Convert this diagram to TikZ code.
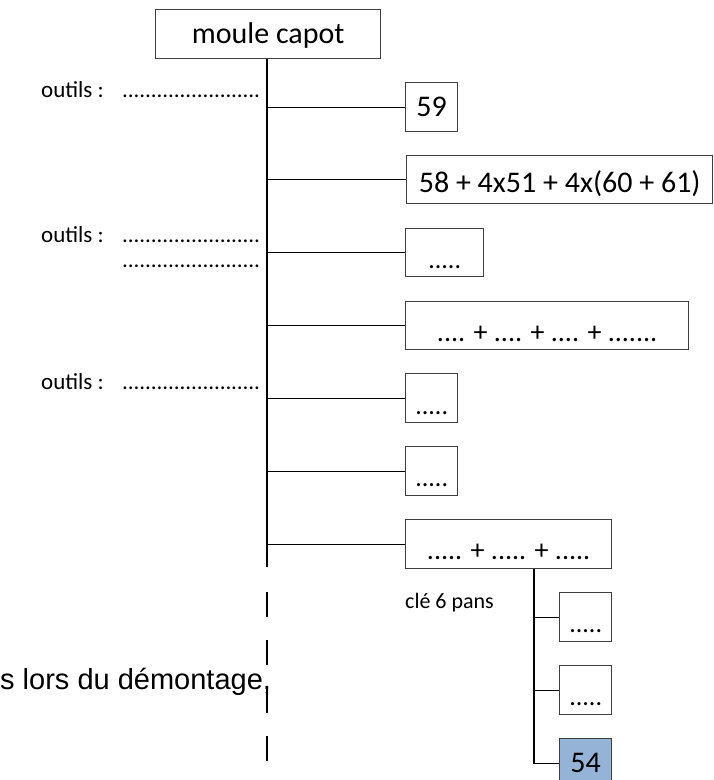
\documentclass[tikz,border=0pt]{standalone}
\usepackage{fontspec}
\setmainfont{Carlito}
\newfontfamily\arialfont{Liberation Sans}
\definecolor{boxgray}{HTML}{3F3F3F}
\definecolor{keyblue}{HTML}{95B3D7}
% a row of evenly spaced dots of fixed width
\newcommand\dotrule{\hbox to 138pt{\cleaders\hbox to 5.75pt{\hss.\hss}\hfill}}
\begin{document}
\begin{tikzpicture}[x=1pt,y=-1pt,
  box/.style={draw=boxgray, line width=1.4pt, inner sep=0pt, anchor=north west,
              align=center, font=\fontsize{30}{34}\selectfont},
  dotsfont/.style={font=\fontsize{26}{30}\selectfont},
  sumfont/.style={font=\fontsize{28}{32}\selectfont},
  lbl/.style={inner sep=0pt, anchor=base west, font=\fontsize{23}{27}\selectfont},
  conn/.style={draw=black, line width=1.3pt}]

\useasboundingbox (0,0) rectangle (713,780);

% root and first-level boxes
\node[box, minimum width=225pt, text height=34pt, text depth=15pt] (top) at (155,9) {moule capot};
\node[box, minimum width=52pt, text height=34pt, text depth=15pt] (b1) at (405,82) {59};
\node[box, minimum width=306pt, text height=37pt, text depth=11pt] (b2) at (406,155) {58 + 4x51 + 4x(60 + 61)};
\node[box, dotsfont, minimum width=78pt, text height=40pt, text depth=8pt] (b3) at (405,228) {.....};
\node[box, sumfont, minimum width=283pt, text height=40pt, text depth=8pt] (b4) at (405,301) {.... + .... + .... + .......};
\node[box, dotsfont, minimum width=52pt, text height=41pt, text depth=8pt] (b5) at (405,373) {.....};
\node[box, dotsfont, minimum width=52pt, text height=40pt, text depth=9pt] (b6) at (405,446) {.....};
\node[box, sumfont, minimum width=206pt, text height=40pt, text depth=9pt] (b7) at (405,519) {..... + ..... + .....};

% second-level boxes
\node[box, dotsfont, minimum width=52pt, text height=40pt, text depth=9pt] (s1) at (559,592) {.....};
\node[box, dotsfont, minimum width=52pt, text height=40pt, text depth=9pt] (s2) at (559,665) {.....};
\node[box, fill=keyblue, minimum width=52pt, text height=34pt, text depth=15pt] (s3) at (559,738) {54};

% trunk and branches
\coordinate (tx) at (267,0);
\coordinate (tend) at (267,567);
\coordinate (dstart) at (267,592);
\coordinate (dend) at (267,763);
\coordinate (sx) at (534,0);

\draw[conn] (top.south -| tx) -- (tend);
\draw[conn, dash pattern=on 25pt off 23pt] (dstart) -- (dend);
\foreach \b in {b1,b2,b3,b4,b5,b6,b7}
  \draw[conn] (tx |- \b.west) -- (\b.west);

\draw[conn] (b7.south -| sx) -- (sx |- s3.west) -- (s3.west);
\foreach \b in {s1,s2}
  \draw[conn] (sx |- \b.west) -- (\b.west);

% tool notes
\node[lbl] (o1) at (41,97) {outils :};
\node[lbl] (d1) at (122,97) {\dotrule};
\node[lbl] (o2) at (41,242) {outils :};
\node[lbl] (d2) at (122,242) {\dotrule};
\node[lbl] (d3) at (122,267) {\dotrule};
\node[lbl] (o3) at (41,389) {outils :};
\node[lbl] (d4) at (122,389) {\dotrule};

\node[lbl, font=\fontsize{22}{26}\selectfont] (key) at (405,608) {clé 6 pans};

\node[inner sep=0pt, anchor=base west, font=\arialfont\fontsize{29}{34}\selectfont] (note) at (0,689) {s lors du démontage,};
\end{tikzpicture}
\end{document}
